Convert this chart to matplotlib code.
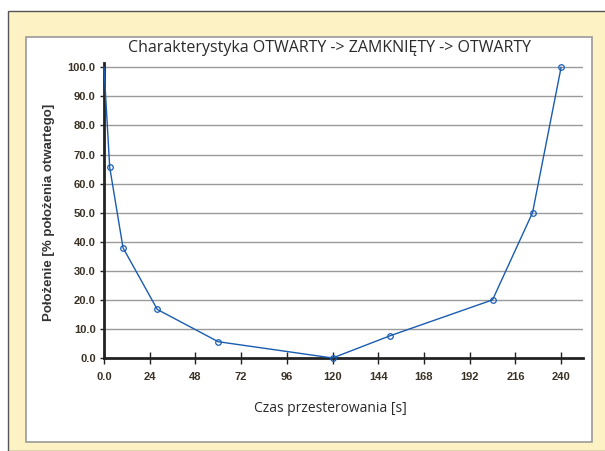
import matplotlib
matplotlib.use("Agg")
import matplotlib.pyplot as plt
from matplotlib.patches import Rectangle

time_s = [0, 3, 10, 28, 60, 120, 150, 204, 225, 240]
position_pct = [100, 65.6, 37.9, 16.7, 5.6, 0.0, 7.6, 20.0, 50.0, 100.0]
x_ticks = [0, 24, 48, 72, 96, 120, 144, 168, 192, 216, 240]
x_tick_labels = ["0.0", "24", "48", "72", "96", "120", "144", "168", "192", "216", "240"]
y_ticks = [0, 10, 20, 30, 40, 50, 60, 70, 80, 90, 100]
y_tick_labels = [f"{v:.1f}" for v in y_ticks]

title = "Charakterystyka OTWARTY -> ZAMKNIĘTY -> OTWARTY"
xlabel = "Czas przesterowania [s]"
ylabel = "Położenie [% położenia otwartego]"

W, H = 605, 451
fig = plt.figure(figsize=(W / 100, H / 100), dpi=100)
fig.patch.set_facecolor("white")

def fx(px):
    return px / W

def fy(py):
    return 1 - py / H

# cream background frame
fig.patches.append(Rectangle((fx(8), 0), 1 - fx(8) + 0.01, fy(11), transform=fig.transFigure,
                             facecolor="#fdf2c4", edgecolor="#555555", linewidth=1.0, zorder=0))
# white chart panel
fig.patches.append(Rectangle((fx(26), fy(442)), fx(592) - fx(26), fy(37) - fy(442),
                             transform=fig.transFigure, facecolor="white",
                             edgecolor="#9a9a9a", linewidth=1.2, zorder=1))

ax = fig.add_axes([fx(104), fy(358), fx(583) - fx(104), fy(63) - fy(358)])
ax.set_facecolor("white")
ax.set_zorder(2)

ax.set_xlim(0, 251.5)
ax.set_ylim(0, 101.5)

for v in y_ticks[1:]:
    ax.axhline(v, color="#9a9a9a", linewidth=1.0, zorder=1)

ax.plot(time_s, position_pct, color="#1a5cb0", linewidth=1.0, marker="o",
        markevery=list(range(1, len(time_s))),
        markersize=4, markerfacecolor="none", markeredgecolor="#1a5cb0",
        markeredgewidth=0.9, zorder=3, clip_on=False)

for s in ["top", "right"]:
    ax.spines[s].set_visible(False)
for s in ["left", "bottom"]:
    ax.spines[s].set_color("#222222")
    ax.spines[s].set_linewidth(2.0)

ax.set_xticks(x_ticks)
ax.set_xticklabels(x_tick_labels)
ax.set_yticks(y_ticks)
ax.set_yticklabels(y_tick_labels)
ax.tick_params(axis="x", direction="inout", length=8, width=1.0, color="#222222", pad=6)
ax.tick_params(axis="y", direction="out", length=3, width=1.0, color="#222222", pad=3)
for lab in ax.get_xticklabels() + ax.get_yticklabels():
    lab.set_fontfamily("Liberation Sans")
    lab.set_fontweight("bold")
    lab.set_fontsize(8)
    lab.set_color("#3b3226")

fig.text(fx(330), fy(48), title, ha="center", va="center", fontsize=11.5,
         family="Open Sans", fontweight="medium", color="#2a2a2a")
fig.text(fx(330), fy(409), xlabel, ha="center", va="center", fontsize=10,
         family="Open Sans", color="#2a2a2a")
fig.text(fx(49), fy(212), ylabel, ha="center", va="center", rotation=90,
         fontsize=9.5, family="Liberation Sans", fontweight="bold", color="#333333")

fig.savefig("out.png", dpi=100, facecolor=fig.get_facecolor())
